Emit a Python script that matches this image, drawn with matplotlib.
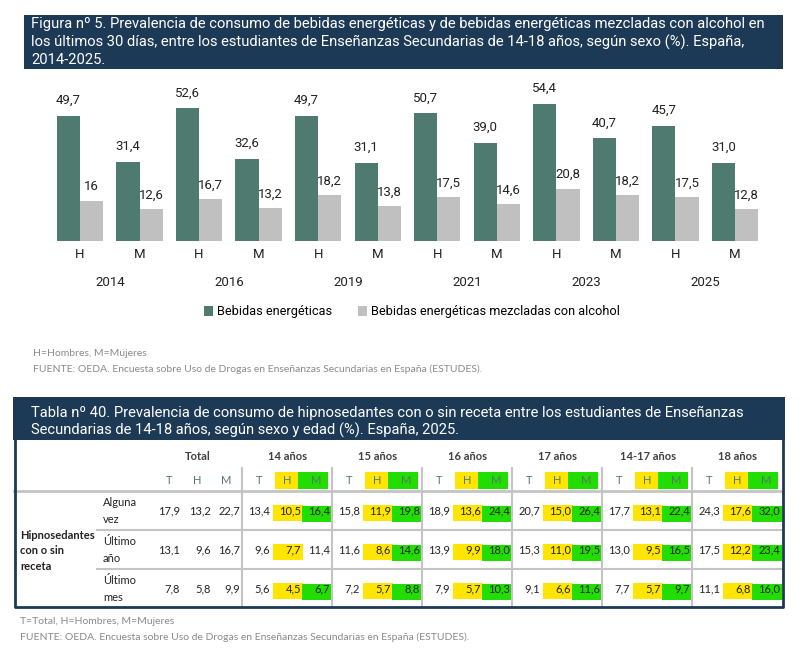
import matplotlib
matplotlib.use("Agg")
import matplotlib.pyplot as plt
from matplotlib.patches import Rectangle

# datos figura 5
anios = ['2014', '2016', '2019', '2021', '2023', '2025']
sexo = ['H', 'M'] * 6
energeticas = [49.7, 31.4, 52.6, 32.6, 49.7, 31.1, 50.7, 39.0, 54.4, 40.7, 45.7, 31.0]
mezcladas = [16, 12.6, 16.7, 13.2, 18.2, 13.8, 17.5, 14.6, 20.8, 18.2, 17.5, 12.8]

# datos tabla 40
grupos = ['Total', '14 años', '15 años', '16 años', '17 años', '14-17 años', '18 años']
subcols = ['T', 'H', 'M']
filas = ['Alguna\nvez', 'Último\naño', 'Último\nmes']
alguna_vez = [17.9, 13.2, 22.7, 13.4, 10.5, 16.4, 15.8, 11.9, 19.8, 18.9, 13.6, 24.4,
              20.7, 15.0, 26.4, 17.7, 13.1, 22.4, 24.3, 17.6, 32.0]
ultimo_anio = [13.1, 9.6, 16.7, 9.6, 7.7, 11.4, 11.6, 8.6, 14.6, 13.9, 9.9, 18.0,
               15.3, 11.0, 19.5, 13.0, 9.5, 16.5, 17.5, 12.2, 23.4]
ultimo_mes = [7.8, 5.8, 9.9, 5.6, 4.5, 6.7, 7.2, 5.7, 8.8, 7.9, 5.7, 10.3,
              9.1, 6.6, 11.6, 7.7, 5.7, 9.7, 11.1, 6.8, 16.0]
# celdas M resaltadas en verde (por grupo de edad, sin Total)
verde = [[1, 1, 1, 1, 1, 1], [0, 1, 1, 1, 1, 1], [1, 1, 1, 1, 1, 1]]

NAVY = '#1c3a56'
C_DARK = '#4e7a6f'
C_LIGHT = '#c0c0c0'
YEL = '#ffe500'
GRN = '#22dd00'
W, H = 802, 658


def fmt(v):
    if isinstance(v, int):
        return str(v)
    return f"{v:.1f}".replace('.', ',')


fig = plt.figure(figsize=(W / 100, H / 100), dpi=100)

# ---- grafico de barras ----
ax = fig.add_axes([40 / W, (H - 241) / H, 730 / W, 161 / H])
x = list(range(len(sexo)))
bw = 0.39
b1 = ax.bar([i - bw / 2 for i in x], energeticas, bw, color=C_DARK, label='Bebidas energéticas')
b2 = ax.bar([i + bw / 2 for i in x], mezcladas, bw, color=C_LIGHT,
            label='Bebidas energéticas mezcladas con alcohol')
ax.set_ylim(0, 161 / 2.52)
ax.set_xlim(-40 / 59.55, 11 + 35 / 59.55)
ax.axis('off')
for i in x:
    ax.annotate(fmt(energeticas[i]), (i - bw / 2, energeticas[i]), xytext=(0, 11),
                textcoords='offset points', ha='center', va='center',
                fontsize=9.5, family='Roboto', color='#222222')
    ax.annotate(fmt(mezcladas[i]), (i + bw / 2, mezcladas[i]), xytext=(0, 10),
                textcoords='offset points', ha='center', va='center',
                fontsize=9.5, family='Roboto', color='#222222')
    ax.annotate(sexo[i], (i, 0), xycoords=('data', 'axes fraction'), xytext=(0, -10),
                textcoords='offset points', ha='center', va='center',
                fontsize=9.5, family='Roboto', color='#222222')
for k, a in enumerate(anios):
    ax.annotate(a, (2 * k + 0.5, 0), xycoords=('data', 'axes fraction'), xytext=(0, -30),
                textcoords='offset points', ha='center', va='center',
                fontsize=9.5, family='Roboto', color='#222222')

leg = fig.legend(handles=[b1, b2], loc='center', bbox_to_anchor=(412 / W, 1 - 312 / H),
                 ncol=2, frameon=False, handlelength=0.75, handleheight=0.75,
                 handletextpad=0.3, columnspacing=2.0, prop={'family': 'Roboto', 'size': 9.2})

# ---- capa en pixeles ----
ov = fig.add_axes([0, 0, 1, 1])
ov.set_xlim(0, W)
ov.set_ylim(H, 0)
ov.axis('off')

# titulo figura
ov.add_patch(Rectangle((24, 15), 759, 54, color=NAVY, lw=0))
t1 = ["Figura nº 5. Prevalencia de consumo de bebidas energéticas y de bebidas energéticas mezcladas con alcohol en",
      "los últimos 30 días, entre los estudiantes de Enseñanzas Secundarias de 14-18 años, según sexo (%). España,",
      "2014-2025."]
for j, s in enumerate(t1):
    ov.text(31, 24 + 18 * j, s, color='white', fontsize=10.6, family='Roboto', va='center')

ov.text(33, 353, 'H=Hombres, M=Mujeres', color='#8a8a8a', fontsize=7.5, family='Lato', va='center')
ov.text(33, 369, 'FUENTE: OEDA. Encuesta sobre Uso de Drogas en Enseñanzas Secundarias en España (ESTUDES).',
        color='#8a8a8a', fontsize=7.5, family='Lato', va='center')

# titulo tabla
ov.add_patch(Rectangle((13, 397), 772, 43, color=NAVY, lw=0))
t2 = ["Tabla nº 40. Prevalencia de consumo de hipnosedantes con o sin receta entre los estudiantes de Enseñanzas",
      "Secundarias de 14-18 años, según sexo y edad (%). España, 2025."]
for j, s in enumerate(t2):
    ov.text(31, 413 + 17 * j, s, color='white', fontsize=10.6, family='Roboto', va='center')

# lineas de la tabla
GRID = '#c4c4c4'
ov.plot([14, 783], [491, 491], color=GRID, lw=2)
for yy in (530, 569):
    ov.plot([97, 783], [yy, yy], color=GRID, lw=1.5)
g0 = 152
for k in range(1, len(grupos)):
    ov.plot([g0 + 90 * k] * 2, [468, 607], color=GRID, lw=1.5)
ov.plot([14.5, 14.5, 783, 783], [440, 607, 607, 440], color=NAVY, lw=2)

# cabecera
for k, g in enumerate(grupos):
    gx = g0 + 90 * k
    ov.text(gx + 46, 457, g, ha='center', va='center', fontsize=8, family='Lato',
            weight='bold', color='#404040')
    if k > 0:
        ov.add_patch(Rectangle((gx + 33, 472), 23, 17, color=YEL, lw=0))
        ov.add_patch(Rectangle((gx + 56, 472), 30, 17, color=GRN, lw=0))
    for j, c in enumerate(subcols):
        ov.text(gx + [17, 45, 74][j], 480, c, ha='center', va='center', fontsize=8,
                family='Lato', color='#55766d')

# cuerpo
ov.text(20, 551, 'Hipnosedantes\ncon o sin\nreceta', ha='left', va='center', fontsize=8,
        family='Lato', weight='bold', color='#222222', linespacing=1.5)
datos = [alguna_vez, ultimo_anio, ultimo_mes]
for r, (nombre, fila) in enumerate(zip(filas, datos)):
    yc = 511 + 39 * r
    ov.text(103, yc, nombre, ha='left', va='center', fontsize=8, family='Lato',
            color='#222222', linespacing=1.6)
    for k in range(len(grupos)):
        gx = g0 + 90 * k
        if k > 0:
            ov.add_patch(Rectangle((gx + 31, yc - 6), 30, 16, color=YEL, lw=0))
            if verde[r][k - 1]:
                ov.add_patch(Rectangle((gx + 60, yc - 5), 30, 16, color=GRN, lw=0))
        for j in range(3):
            ov.text(gx + [28, 59, 88][j], yc, fmt(fila[3 * k + j]), ha='right', va='center',
                    fontsize=8, family='Lato', color='#222222')

ov.text(20, 622, 'T=Total, H=Hombres, M=Mujeres', color='#8a8a8a', fontsize=7.5, family='Lato', va='center')
ov.text(20, 637, 'FUENTE: OEDA. Encuesta sobre Uso de Drogas en Enseñanzas Secundarias en España (ESTUDES).',
        color='#8a8a8a', fontsize=7.5, family='Lato', va='center')

fig.savefig('out.png', dpi=100)
